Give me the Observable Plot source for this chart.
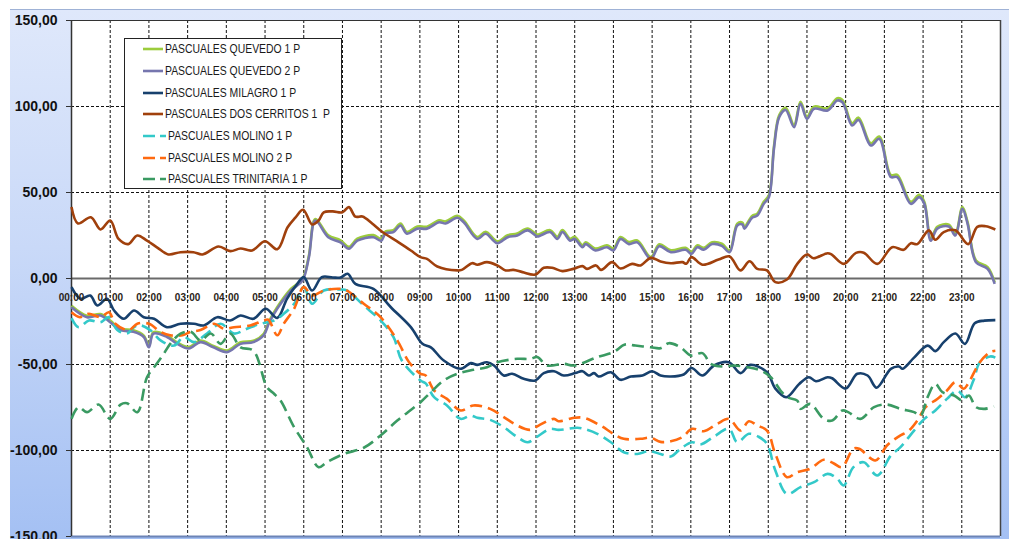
<!DOCTYPE html>
<html>
<head>
<meta charset="utf-8">
<script src="https://cdn.jsdelivr.net/npm/d3@7"></script>
<script src="https://cdn.jsdelivr.net/npm/@observablehq/plot@0.6"></script>
<style>
  html, body { margin: 0; padding: 0; background: white; }
  #wrap { position: relative; width: 1009px; height: 539px; overflow: hidden; font-family: "Liberation Sans", Arial, sans-serif; }
  #bg { position: absolute; left: 10px; top: 9px; right: 0; bottom: 0;
        background: linear-gradient(to bottom, #dfe8fb 0%, #c9d9f8 45%, #a4c0f3 100%);
        border-top: 1px solid #9fb2d6; }
  #chart { position: absolute; left: 0; top: 0; }
  #legend { position: absolute; left: 124px; top: 38px; width: 216px; height: 149px;
            border: 1px solid #222; background: white; }
  .row { position: absolute; left: 0; height: 16px; display: flex; align-items: center; }
  .row svg { display: block; flex: none; }
  .row span { font-family: "Liberation Sans", Arial, sans-serif;
              font-size: 12.4px; color: #1a1a1a; white-space: pre; margin-left: 2px;
              display: inline-block; transform: scaleX(0.84); transform-origin: left center; }
</style>
</head>
<body>
<div id="wrap"><div id="bg"></div><div id="chart"></div><div id="legend"></div></div>
<script>
// ---------------- data (time "HH:MM", value) ----------------
const seriesNames = [
  "PASCUALES QUEVEDO 1 P",
  "PASCUALES QUEVEDO 2 P",
  "PASCUALES MILAGRO 1 P",
  "PASCUALES DOS CERRITOS 1  P",
  "PASCUALES MOLINO 1 P",
  "PASCUALES MOLINO 2 P",
  "PASCUALES TRINITARIA 1 P"
];
const seriesColors = ["#9ccc3c", "#7676ae", "#17406d", "#a0400c", "#33c9c9", "#ff6a10", "#3a9a62"];
const seriesDashed = [false, false, false, false, true, true, true];

const xTickLabels = ["00:00","01:00","02:00","03:00","04:00","05:00","06:00","07:00","08:00","09:00","10:00","11:00",
                     "12:00","13:00","14:00","15:00","16:00","17:00","18:00","19:00","20:00","21:00","22:00","23:00"];
const yTicks = [-150, -100, -50, 0, 50, 100, 150];

const quevedo1 = [["00:00",-15.8],["00:24",-21.6],["00:45",-20.7],["01:00",-24.5],["01:16",-29.2],["01:36",-30.1],["01:52",-33.2],["02:00",-39.1],["02:07",-31.2],["02:28",-33.1],["02:44",-37.2],["03:02",-39.8],["03:20",-36.1],["03:40",-39.2],["04:01",-41.9],["04:22",-37.1],["04:42",-36.2],["04:58",-32.1],["05:06",-25.1],["05:19",-16.6],["05:40",-6.1],["05:58",-0.3],["06:08",13.4],["06:18",34.6],["06:38",25.1],["06:57",22.2],["07:10",18.4],["07:23",23.1],["07:48",25.2],["08:00",23.1],["08:07",27.4],["08:19",28.1],["08:30",31.9],["08:40",27.1],["08:56",30.2],["09:11",30.1],["09:30",33.8],["09:40",33.2],["09:58",36.4],["10:08",33.8],["10:29",24.1],["10:42",27.2],["11:00",21.6],["11:16",25.1],["11:31",26.2],["11:47",29.1],["12:02",25.5],["12:07",26.1],["12:22",28.1],["12:33",24.2],["12:41",28.1],["12:53",23.1],["13:00",24.2],["13:12",19.3],["13:17",21.1],["13:32",17.4],["13:50",19.3],["14:00",17.4],["14:11",24.1],["14:24",21.2],["14:37",22.1],["14:58",12.5],["15:11",19.9],["15:29",16.4],["15:52",17.8],["16:01",15.4],["16:10",19.3],["16:20",17.8],["16:33",21.1],["16:48",20.2],["17:00",16.3],["17:12",31.9],["17:20",32.5],["17:23",30.1],["17:35",36.4],["17:43",37.7],["17:53",44.6],["18:01",48.4],["18:09",77.2],["18:17",95.0],["18:27",99.3],["18:40",89.3],["18:50",102.8],["19:00",94.1],["19:11",99.9],["19:32",99.0],["19:47",104.8],["19:55",103.8],["20:10",90.3],["20:20",93.5],["20:39",78.6],["20:52",82.5],["21:10",60.2],["21:20",60.3],["21:41",44.6],["21:54",48.6],["22:02",44.5],["22:12",23.1],["22:22",30.1],["22:40",31.3],["22:50",26.1],["23:01",41.6],["23:09",32.8],["23:22",10.5],["23:40",6.6],["23:51",-2.3]];

const quevedo2 = [["00:00",-16.7],["00:24",-22.5],["00:45",-21.5],["01:00",-25.4],["01:16",-30],["01:36",-31],["01:52",-34],["02:00",-40],["02:07",-32],["02:28",-34],["02:44",-38],["03:02",-40.7],["03:20",-37],["03:40",-40],["04:01",-42.8],["04:22",-38],["04:42",-37],["04:58",-33],["05:06",-26],["05:19",-17.5],["05:40",-7],["05:58",-1.2],["06:08",12.4],["06:18",33.7],["06:38",24],["06:57",21],["07:10",17.3],["07:23",22],["07:48",24],["08:00",22],["08:07",26.3],["08:19",27],["08:30",30.8],["08:40",26],["08:56",29],["09:11",29],["09:30",32.7],["09:40",32],["09:58",35.3],["10:08",32.7],["10:29",23],["10:42",26],["11:00",20.5],["11:16",24],["11:31",25],["11:47",28],["12:02",24.4],["12:07",25],["12:22",27],["12:33",23],["12:41",27],["12:53",22],["13:00",23],["13:12",18.2],["13:17",20],["13:32",16.3],["13:50",18.2],["14:00",16.3],["14:11",23],["14:24",20],["14:37",21],["14:58",11.4],["15:11",18.8],["15:29",15.3],["15:52",16.7],["16:01",14.3],["16:10",18.2],["16:20",16.7],["16:33",20],["16:48",19],["17:00",15.3],["17:12",30.8],["17:20",31.4],["17:23",29],["17:35",35.3],["17:43",36.6],["17:53",43.4],["18:01",47.3],["18:09",76],["18:17",93.8],["18:27",98],["18:40",88],["18:50",101.6],["19:00",92.8],["19:11",98.7],["19:32",97.7],["19:47",103.5],["19:55",102.5],["20:10",89],["20:20",92.2],["20:39",77.3],["20:52",81.2],["21:10",59],["21:20",59],["21:41",43.4],["21:54",47.3],["22:02",43.4],["22:12",22],["22:22",29],["22:40",30.2],["22:50",25],["23:01",40.5],["23:09",31.8],["23:22",9.5],["23:40",5.6],["23:51",-3.1]];

const milagro1 = [["00:00",-5],["00:14",-11.8],["00:29",-9.9],["00:40",-15.7],["00:55",-11.8],["01:06",-18.6],["01:21",-23.4],["01:37",-18.6],["01:52",-22.5],["02:08",-23.4],["02:28",-28.3],["02:49",-26.3],["03:10",-26.3],["03:25",-27.3],["03:46",-22.5],["04:06",-24.4],["04:22",-21.5],["04:42",-23.4],["05:01",-17.6],["05:19",-22.9],["05:34",-11.8],["05:50",-3.1],["06:00",0.8],["06:13",-7],["06:28",0.8],["06:45",0.6],["06:57",0.6],["07:08",2.7],["07:20",-3.1],["07:48",-6],["08:15",-16.7],["08:46",-28.3],["09:04",-38],["09:17",-40],["09:37",-47.7],["10:03",-52.5],["10:19",-49.2],["10:29",-50.2],["10:44",-48.7],["10:55",-50.6],["11:10",-56.4],["11:23",-55.4],["11:41",-58.3],["11:59",-59.3],["12:12",-55],["12:28",-53.9],["12:43",-56.4],["13:01",-55],["13:12",-53.9],["13:22",-56.4],["13:30",-55],["13:37",-57],["13:56",-54.5],["14:11",-58.9],["14:27",-57],["14:45",-56.4],["15:00",-53.9],["15:13",-56.4],["15:29",-57],["15:49",-55.8],["16:01",-52],["16:18",-56.4],["16:36",-50.6],["16:59",-48.7],["17:17",-55],["17:32",-50.2],["17:58",-54.5],["18:11",-64],["18:28",-69],["18:48",-61.3],["19:03",-57.4],["19:14",-59.7],["19:32",-57.4],["19:39",-58],["20:00",-64],["20:18",-55.4],["20:34",-56.4],["20:48",-63.5],["21:10",-52.5],["21:23",-51.2],["21:28",-52.5],["21:46",-46],["22:07",-39],["22:19",-42.2],["22:32",-37],["22:50",-32],["23:05",-38],["23:20",-26],["23:35",-24.5],["23:52",-24.2]];

const dosCerritos1 = [["00:00",41.5],["00:10",32],["00:30",35.6],["00:45",28.5],["01:00",33.7],["01:13",23],["01:28",20],["01:42",25],["01:57",22],["02:13",18],["02:30",14],["02:49",15.3],["03:09",15.3],["03:23",14],["03:48",18.6],["04:06",15.9],["04:22",17.4],["04:40",16.3],["05:00",21.7],["05:19",17],["05:35",29.8],["05:47",35.4],["05:59",40],["06:13",31.4],["06:23",33.7],["06:31",38.5],["06:45",39],["07:00",38.5],["07:10",41.5],["07:20",36],["07:31",36],["07:46",32],["08:02",27],["08:27",21],["08:46",16.3],["09:01",12.4],["09:11",11.4],["09:27",7],["09:58",4.7],["10:05",5],["10:21",8.9],["10:29",8],["10:44",9.5],["11:00",7.6],["11:13",4.7],["11:25",5],["11:39",3.7],["11:59",2.3],["12:12",6.2],["12:25",6.2],["12:41",4.3],["12:58",5.6],["13:12",7.2],["13:19",5.6],["13:33",7.6],["13:41",5],["13:58",9.5],["14:11",5.8],["14:29",8.5],["14:42",7.6],["14:58",12],["15:13",9.9],["15:29",8.9],["15:47",9.5],["15:53",8.6],["16:01",12.4],["16:18",8],["16:43",11],["17:00",12.8],["17:17",4.7],["17:31",10],["17:43",5.6],["17:58",4.7],["18:11",-2.1],["18:29",-0.6],["18:45",8.5],["19:00",14],["19:10",11.8],["19:32",14.7],["19:38",14],["19:57",8.5],["20:16",14.9],["20:28",15],["20:49",8.5],["21:12",18.2],["21:30",16.7],["21:41",20.5],["21:51",20],["22:09",28],["22:19",22.5],["22:32",27],["22:50",28],["23:10",20],["23:24",30],["23:37",30.4],["23:52",28.5]];

const molino1 = [["00:00",-23],["00:11",-28.3],["00:27",-24.4],["00:45",-25.4],["00:58",-22.5],["01:11",-30],["01:26",-32],["01:37",-28.3],["01:45",-27],["02:02",-30],["02:18",-36],["02:39",-39],["02:54",-34],["03:10",-37],["03:30",-32],["03:51",-26.3],["04:12",-32],["04:32",-29.2],["04:53",-26.3],["05:14",-24.4],["05:29",-20.5],["05:45",-14.7],["06:00",-5],["06:13",-14.7],["06:31",-7],["06:57",-6.4],["07:07",-7],["07:33",-15.7],["07:59",-24.4],["08:19",-34],["08:32",-47.7],["09:01",-59.3],["09:09",-61],["09:22",-69],["09:42",-73.8],["10:03",-81.6],["10:19",-79.7],["10:29",-81],["10:49",-82.2],["11:10",-86.4],["11:31",-92.2],["11:47",-95.2],["12:02",-91.9],["12:22",-87.4],["12:35",-88],["13:04",-86.8],["13:14",-87.4],["13:35",-90.3],["13:56",-95.2],["14:16",-101],["14:37",-102],["14:55",-100.4],["15:13",-102],["15:29",-103.5],["15:44",-99],["16:02",-95.2],["16:15",-96.5],["16:36",-91.9],["16:59",-87.4],["17:12",-95.2],["17:30",-90.3],["17:45",-92],["17:58",-96.1],["18:11",-111.6],["18:29",-125.2],["18:50",-121.3],["19:11",-118.4],["19:32",-113.6],["19:47",-116.4],["19:57",-120.3],["20:12",-109.7],["20:28",-106.8],["20:49",-114.5],["21:10",-102.9],["21:25",-98],["21:46",-88.4],["22:02",-81.6],["22:19",-76.7],["22:37",-70],["22:53",-65.1],["23:05",-69],["23:18",-59.3],["23:28",-48.7],["23:44",-45.3],["23:52",-46]];

const molino2 = [["00:00",-19.6],["00:13",-22.5],["00:27",-20.5],["00:45",-22.5],["00:58",-19.6],["01:08",-26.3],["01:29",-30],["01:42",-26.3],["02:00",-26.3],["02:18",-31],["02:33",-33],["02:52",-33],["03:05",-31],["03:20",-30],["03:41",-26.3],["03:56",-29.2],["04:12",-28.3],["04:37",-27.3],["04:58",-24.4],["05:05",-24],["05:19",-33],["05:29",-26.3],["05:45",-17.6],["06:00",-5],["06:13",-9.9],["06:31",-7],["06:57",-6],["07:07",-7],["07:33",-14.7],["07:59",-22.5],["08:25",-36],["08:43",-48.5],["09:01",-55.4],["09:09",-56.4],["09:22",-65],["09:42",-70],["10:03",-76.7],["10:23",-73.8],["10:49",-75.8],["11:10",-80.6],["11:31",-85.5],["11:51",-88],["12:04",-85.5],["12:28",-81.6],["12:35",-83],["12:59",-81],["13:14",-81],["13:40",-85.5],["14:00",-90.3],["14:16",-93.2],["14:42",-93.2],["14:58",-92.6],["15:13",-95],["15:29",-94.6],["15:47",-92.2],["16:02",-87.4],["16:20",-88.8],["16:41",-84.5],["16:59",-81.6],["17:17",-88.4],["17:30",-83],["17:43",-85.5],["17:58",-88.4],["18:11",-102],["18:29",-115.5],["18:45",-112.6],["19:05",-110.6],["19:26",-105.4],["19:41",-107.4],["19:54",-109.7],["20:12",-99],["20:21",-99],["20:46",-105.8],["21:04",-97.1],["21:22",-91.9],["21:38",-88.4],["21:51",-82.6],["22:04",-74.8],["22:22",-70],["22:37",-65.1],["22:50",-60.3],["23:03",-64.1],["23:10",-61],["23:28",-48.7],["23:44",-42.8],["23:52",-42]];

const trinitaria1 = [["00:00",-81.6],["00:11",-74.8],["00:24",-77.7],["00:42",-73.3],["01:00",-81.6],["01:16",-73.3],["01:26",-72.5],["01:42",-77.7],["01:57",-57.4],["02:08",-51.6],["02:23",-43.8],["02:33",-38],["02:49",-32],["03:05",-31],["03:20",-36],["03:36",-32],["03:51",-38],["04:06",-32],["04:22",-40],["04:42",-42],["05:03",-63.2],["05:14",-67],["05:24",-71],["05:45",-86.4],["06:05",-98],["06:23",-109.7],["06:36",-106.8],["07:02",-102],["07:33",-98.4],["07:59",-91.3],["08:25",-82.6],["09:01",-71.9],["09:17",-66.1],["09:37",-59.3],["09:58",-55.4],["10:23",-53.1],["10:44",-51.6],["11:00",-48.7],["11:31",-46.7],["11:51",-46.7],["12:02",-45.7],["12:17",-50.6],["12:43",-49.6],["12:59",-50.6],["13:35",-45.7],["14:00",-42.8],["14:18",-38.4],["14:34",-39],["14:58",-40],["15:13",-40.5],["15:26",-37.6],["15:44",-40],["16:00",-44.8],["16:18",-43.4],["16:31",-49.6],["16:51",-51.2],["17:07",-50.6],["17:28",-51.6],["17:48",-53.5],["18:04",-57.4],["18:19",-65.1],["18:29",-69],["18:45",-71],["18:50",-75.8],["19:05",-72.9],["19:26",-81.6],["19:39",-82.6],["19:55",-76.7],["20:04",-77.7],["20:23",-81.6],["20:44",-74.8],["21:04",-73.3],["21:25",-75.8],["21:46",-77.7],["21:56",-79.7],["22:07",-69],["22:19",-61.3],["22:30",-66.1],["22:48",-68],["23:01",-71],["23:11",-68],["23:22",-74.8],["23:35",-75.8],["23:50",-74.4]];

const seriesData = [quevedo1, quevedo2, milagro1, dosCerritos1, molino1, molino2, trinitaria1];

// ---------------- build ----------------
const toHours = s => +s.slice(0, 2) + +s.slice(3) / 60;
const rows = seriesData.map(arr => arr.map(([t, v]) => ({h: toHours(t), v})));
const hours = xTickLabels.map(toHours);
const yFmt = d => d.toFixed(2).replace(".", ",");

const lineMarks = rows.map((data, i) => Plot.line(data, {
  x: "h", y: "v",
  stroke: seriesColors[i],
  strokeWidth: 2.6,
  strokeDasharray: seriesDashed[i] ? "12,6" : null,
  curve: "catmull-rom",
  strokeLinejoin: "round",
  strokeLinecap: "butt"
}));

const chart = Plot.plot({
  width: 1009,
  height: 539,
  marginLeft: 71,
  marginRight: 9,
  marginTop: 20,
  marginBottom: 3,
  style: {background: "transparent", fontFamily: "'Liberation Sans', Arial, sans-serif", overflow: "visible"},
  x: {domain: [0, 24], axis: null},
  y: {domain: [-150, 150], axis: null},
  marks: [
    Plot.frame({fill: "white", stroke: null}),
    Plot.ruleX(hours.filter(h => h > 0), {stroke: "#111", strokeWidth: 1, strokeDasharray: "3,2"}),
    Plot.ruleY(yTicks.filter(d => d !== 0 && d !== -150 && d !== 150), {stroke: "#111", strokeWidth: 1, strokeDasharray: "3,2"}),
    Plot.ruleY([150], {stroke: "#333", strokeWidth: 1}),
    Plot.ruleX([24], {stroke: "#444", strokeWidth: 1.5}),
    Plot.ruleY([-150], {stroke: "#6c84b6", strokeWidth: 2}),
    Plot.ruleY([0], {stroke: "#6a6a6a", strokeWidth: 2}),
    Plot.ruleX([0], {stroke: "#333", strokeWidth: 1.5}),
    ...lineMarks,
    Plot.axisY(yTicks, {
      label: null,
      tickSize: 5, tickPadding: 9, tickFormat: yFmt,
      fontSize: 14, fontWeight: "bold", fill: "#111", stroke: "#333"
    }),
    Plot.text(hours, {
      x: d => d, y: () => 0, text: (d, i) => xTickLabels[i],
      dy: 19, fontSize: 10, fontWeight: "bold", fill: "#2a2418"
    })
  ]
});
document.getElementById("chart").appendChild(chart);

// ---------------- legend ----------------
const legend = document.getElementById("legend");
const rowTops = [2, 24, 46, 67, 89, 111, 132];
seriesNames.forEach((name, i) => {
  const row = document.createElement("div");
  row.className = "row";
  row.style.top = rowTops[i] + "px";
  row.style.left = "18px";
  const dashed = seriesDashed[i];
  const w = dashed ? 23 : 20;
  row.innerHTML =
    `<svg width="${w}" height="16"><line x1="0" y1="8" x2="${w}" y2="8" stroke="${seriesColors[i]}" stroke-width="2.6"` +
    (dashed ? ` stroke-dasharray="12,5"` : ``) + `/></svg><span>${name}</span>`;
  legend.appendChild(row);
});
</script>
</body>
</html>
